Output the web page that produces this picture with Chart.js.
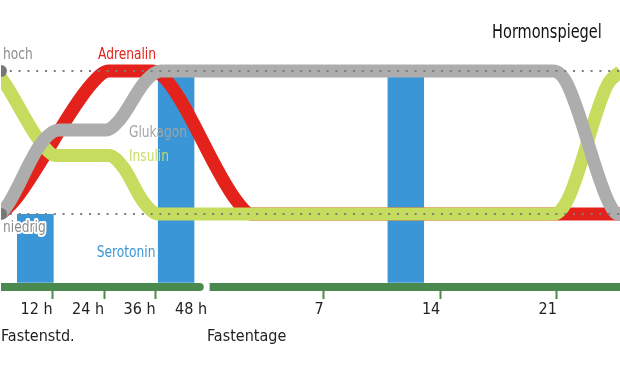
<!DOCTYPE html>
<html>
<head>
<meta charset="utf-8">
<script src="https://cdn.jsdelivr.net/npm/chart.js@4.4.0/dist/chart.umd.min.js"></script>
<style>
  html, body { margin: 0; padding: 0; background: #fff; }
  #wrap { width: 620px; height: 380px; }
</style>
</head>
<body>
<div id="wrap"><canvas id="chart"></canvas></div>
<script>
const FONT = "'Liberation Sans Narrow', 'DejaVu Sans Condensed', 'Roboto', sans-serif";

// x axis in hours; the day part is squeezed: 1 day = 3.88 hour-units after 48 h
const DAY = 3.88;
const X_MAX = 144.2;

const tickValues = [12, 24, 36, 48, 48 + 7 * DAY, 48 + 14 * DAY, 48 + 21 * DAY];
const tickLabels = ['12 h', '24 h', '36 h', '48 h', '7', '14', '21'];
const phaseValues = [0, 48];
const phaseLabels = ['Fastenstd.', 'Fastentage'];

// hormone levels: 0 = niedrig, 1 = hoch
const adrenalinX = [0, 3.3, 21.4, 25.1, 35.3, 39.0, 54.7, 58.4, X_MAX];
const adrenalinY = [0, 0.1, 0.92, 1, 1, 0.92, 0.1, 0, 0];

const glukagonX = [0, 1.9, 9.5, 13.5, 24.4, 27.4, 33.7, 37.2, 128.6, 131.7, 141.6, 143.8, X_MAX + 1];
const glukagonY = [0, 0.08, 0.5, 0.587, 0.587, 0.65, 0.93, 1, 1, 0.92, 0.08, 0, 0];

const insulinX = [-1.2, 1.2, 9.3, 12.8, 25.1, 28.4, 33.3, 36.7, 128.8, 132.0, 141.2, 144.4];
const insulinY = [1, 0.9, 0.5, 0.41, 0.41, 0.33, 0.08, 0, 0, 0.1, 0.9, 1];

// serotonin blocks: start, end, top level
const serotoninStart = [3.7, 36.5, 90.0];
const serotoninEnd = [12.3, 45.1, 98.6];
const serotoninTop = [0, 1, 0.99];
const SERO_BOTTOM = -0.48;

const AXIS_LEVEL = -0.51;
const axisLeft = [0, 46.3];
const axisRight = [48.6, X_MAX];

const RED = '#e3231b';
const GRAY = '#adadad';
const LIME = '#c6dc5e';
const BLUE = '#3a96d6';
const AXIS_GREEN = '#4a8a4e';
const DOT = '#7d7d7d';

function pts(xs, ys) {
    return xs.map((x, i) => ({ x: x, y: ys[i] }));
}

function hormone(label, xs, ys, color, order) {
    return {
        label: label,
        data: pts(xs, ys),
        borderColor: color,
        borderWidth: 13,
        borderCapStyle: 'butt',
        borderJoinStyle: 'round',
        cubicInterpolationMode: 'monotone',
        pointRadius: 0,
        fill: false,
        order: order
    };
}

const datasets = [];
serotoninStart.forEach((s, i) => {
    datasets.push({
        label: 'Serotonin ' + (i + 1),
        data: [{ x: s, y: serotoninTop[i] }, { x: serotoninEnd[i], y: serotoninTop[i] }],
        borderWidth: 0,
        pointRadius: 0,
        backgroundColor: BLUE,
        fill: { value: SERO_BOTTOM },
        order: 20
    });
});
datasets.push(hormone('Adrenalin', adrenalinX, adrenalinY, RED, 12));
datasets.push(hormone('Insulin', insulinX, insulinY, LIME, 11));
datasets.push(hormone('Glukagon', glukagonX, glukagonY, GRAY, 10));
datasets.push({
    label: 'axis left',
    data: pts(axisLeft, [AXIS_LEVEL, AXIS_LEVEL]),
    borderColor: AXIS_GREEN,
    borderWidth: 8,
    borderCapStyle: 'round',
    pointRadius: 0,
    order: 6
});
datasets.push({
    label: 'axis right',
    data: pts(axisRight, [AXIS_LEVEL, AXIS_LEVEL]),
    borderColor: AXIS_GREEN,
    borderWidth: 8,
    borderCapStyle: 'butt',
    pointRadius: 0,
    order: 6
});
[0, 1].forEach(lvl => {
    datasets.push({
        label: 'dots ' + lvl,
        data: pts([0, X_MAX], [lvl, lvl]),
        borderColor: DOT,
        borderWidth: 2,
        borderDash: [2, 6.8],
        pointRadius: 0,
        order: 3
    });
});
datasets.push({
    label: 'markers',
    data: pts([0, 0], [0, 1]),
    showLine: false,
    pointRadius: 6,
    pointBackgroundColor: '#777',
    pointBorderWidth: 0,
    order: 1
});

// inline labels, placed in axis units; sx squeezes the glyphs a bit
const notes = [
    { text: 'hoch', x: 0.47, y: 1.112, color: '#8c8c8c', size: 16 },
    { text: 'niedrig', x: 0.47, y: -0.098, color: '#8c8c8c', size: 16, halo: true },
    { text: 'Adrenalin', x: 22.6, y: 1.112, color: RED, size: 16 },
    { text: 'Glukagon', x: 29.8, y: 0.566, color: '#a3a3a3', size: 16 },
    { text: 'Insulin', x: 29.8, y: 0.399, color: LIME, size: 16 },
    { text: 'Serotonin', x: 22.3, y: -0.273, color: BLUE, size: 16 },
    { text: 'Hormonspiegel', x: 114.4, y: 1.266, color: '#111', size: 19 }
];
const SQUEEZE = 0.85;

const notesPlugin = {
    id: 'notes',
    afterDatasetsDraw(chart) {
        const ctx = chart.ctx;
        const xs = chart.scales.x;
        const ys = chart.scales.y;
        ctx.save();
        ctx.textAlign = 'left';
        ctx.textBaseline = 'middle';
        notes.forEach(n => {
            const px = xs.getPixelForValue(n.x);
            const py = ys.getPixelForValue(n.y);
            ctx.save();
            ctx.translate(px, py);
            ctx.scale(SQUEEZE, 1);
            ctx.font = n.size + 'px ' + FONT;
            if (n.halo) {
                ctx.strokeStyle = '#fff';
                ctx.lineWidth = 4;
                ctx.lineJoin = 'round';
                ctx.strokeText(n.text, 0, 0);
            }
            ctx.fillStyle = n.color;
            ctx.fillText(n.text, 0, 0);
            ctx.restore();
        });
        ctx.restore();
    }
};

new Chart(document.getElementById('chart'), {
    type: 'line',
    data: { datasets: datasets },
    options: {
        responsive: true,
        maintainAspectRatio: false,
        animation: false,
        layout: { autoPadding: false, padding: { left: 0, right: 0, top: 0, bottom: 32 } },
        plugins: {
            legend: { display: false },
            tooltip: { enabled: false }
        },
        scales: {
            x: {
                type: 'linear',
                min: 0,
                max: X_MAX,
                position: 'bottom',
                afterBuildTicks: axis => { axis.ticks = tickValues.map(v => ({ value: v })); },
                afterFit: axis => { axis.height = 27; },
                ticks: {
                    callback: (v, i) => tickLabels[i],
                    align: 'end',
                    autoSkip: false,
                    maxRotation: 0,
                    padding: 1,
                    color: '#222',
                    font: { family: FONT, size: 16 }
                },
                grid: {
                    drawOnChartArea: false,
                    tickLength: 8,
                    tickWidth: 2,
                    tickColor: c => c.index === 3 ? 'rgba(0,0,0,0)' : AXIS_GREEN
                },
                border: { display: false }
            },
            x2: {
                type: 'linear',
                min: 0,
                max: X_MAX,
                position: 'bottom',
                afterBuildTicks: axis => { axis.ticks = phaseValues.map(v => ({ value: v })); },
                afterFit: axis => { axis.height = 30; },
                ticks: {
                    callback: (v, i) => phaseLabels[i],
                    align: 'start',
                    autoSkip: false,
                    maxRotation: 0,
                    padding: 1,
                    color: '#222',
                    font: { family: FONT, size: 16 }
                },
                grid: { display: false },
                border: { display: false }
            },
            y: {
                type: 'linear',
                min: -0.538,
                max: 1.4965,
                display: false
            }
        }
    },
    plugins: [notesPlugin]
});
</script>
</body>
</html>
